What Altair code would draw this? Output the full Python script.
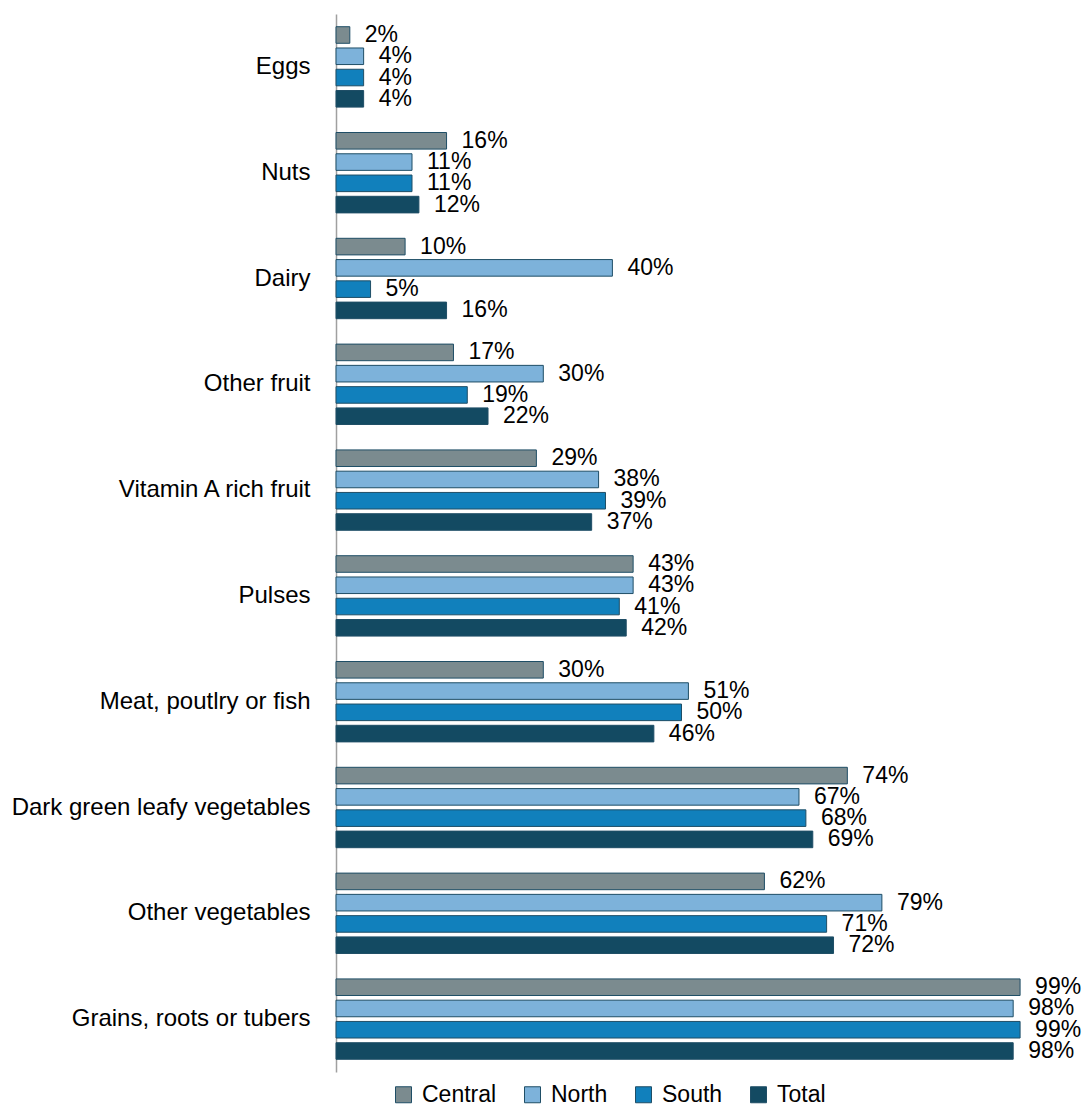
import altair as alt
import pandas as pd

categories = ["Eggs", "Nuts", "Dairy", "Other fruit", "Vitamin A rich fruit", "Pulses",
              "Meat, poutlry or fish", "Dark green leafy vegetables", "Other vegetables",
              "Grains, roots or tubers"]
series = ["Central", "North", "South", "Total"]
central = [2, 16, 10, 17, 29, 43, 30, 74, 62, 99]
north = [4, 11, 40, 30, 38, 43, 51, 67, 79, 98]
south = [4, 11, 5, 19, 39, 41, 50, 68, 71, 99]
total = [4, 12, 16, 22, 37, 42, 46, 69, 72, 98]
colors = ["#7B8B8F", "#7DB2DA", "#1180BC", "#134A62"]

rows = []
for s, vals in zip(series, [central, north, south, total]):
    for c, v in zip(categories, vals):
        rows.append({"category": c, "series": s, "value": v})
df = pd.DataFrame(rows)

FONT = "Liberation Sans"

y = alt.Y("category:N", sort=categories,
          scale=alt.Scale(paddingInner=0.2, paddingOuter=0.1),
          axis=alt.Axis(title=None, ticks=False, labelPadding=26, labelFontSize=24,
                        labelFont=FONT, labelColor="#000000", domainColor="#A0A0A0",
                        domainWidth=1.5, labelLimit=400))
yoff = alt.YOffset("series:N", sort=series,
                   scale=alt.Scale(paddingInner=0.22, paddingOuter=0.1))
x = alt.X("value:Q", scale=alt.Scale(domain=[0, 100]), axis=None)

bars = alt.Chart(df).mark_bar(stroke="#1F4E66", strokeWidth=1).encode(
    x=x, y=y, yOffset=yoff,
    color=alt.Color("series:N", sort=series,
                    scale=alt.Scale(domain=series, range=colors),
                    legend=alt.Legend(title=None, orient="none", direction="horizontal",
                                      legendX=56, legendY=1069, symbolType="square",
                                      symbolSize=256, symbolStrokeColor="#1F4E66",
                                      symbolStrokeWidth=1, labelFontSize=23, labelFont=FONT,
                                      labelColor="#000000", columnPadding=24,
                                      labelOffset=7, symbolOpacity=1)),
)

labels = alt.Chart(df).transform_calculate(
    lbl="datum.value + '%'"
).mark_text(align="left", baseline="middle", dx=15, fontSize=23,
            font=FONT, color="#000000").encode(
    x=x, y=y, yOffset=yoff, text="lbl:N",
)

chart = alt.layer(bars, labels).properties(
    width=691, height=1058,
    background="white",
    autosize=alt.AutoSizeParams(type="none"),
    padding={"left": 336, "top": 14, "right": 56, "bottom": 36},
).configure_view(strokeWidth=0)

chart.save("out.html", embed_options={"renderer": "svg", "actions": False})
